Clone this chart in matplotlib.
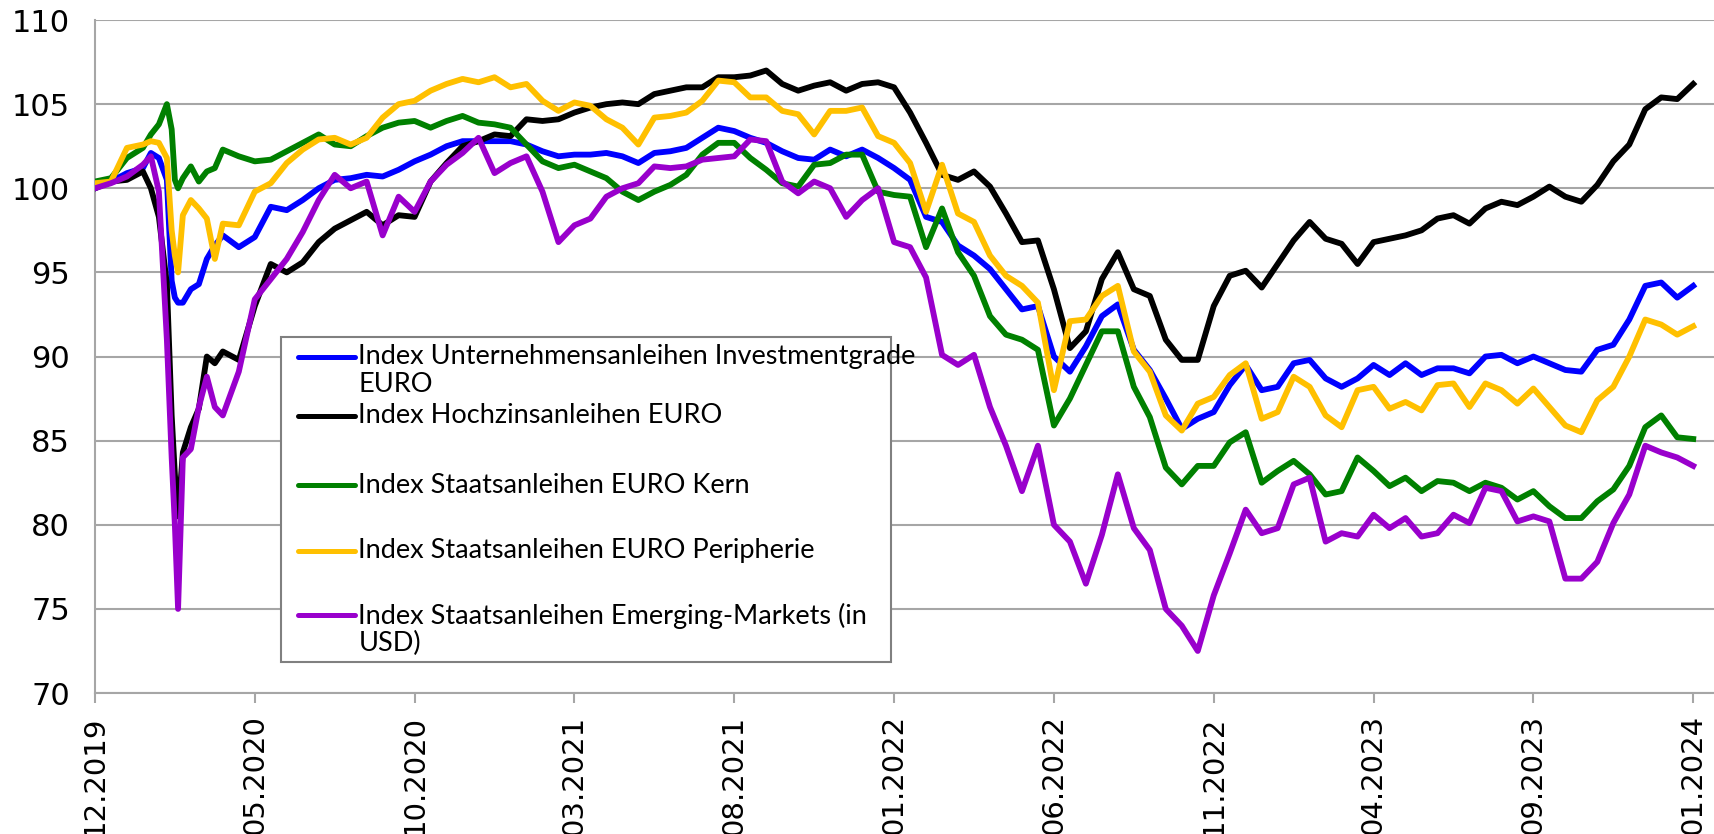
import matplotlib
matplotlib.use("Agg")
import matplotlib.pyplot as plt
from matplotlib.patches import Rectangle

# ==========================================
# Daten (Indexstand, Start = 100)
# ==========================================

# Beobachtungen in Zehntel eines Tickabstands, in der Corona-Phase dichter
pos = sorted(list(range(0, 1001, 10)) + [35, 45, 48, 52, 55, 65, 75])

tick_labels = ["12.2019", "05.2020", "10.2020", "03.2021", "08.2021", "01.2022",
               "06.2022", "11.2022", "04.2023", "09.2023", "01.2024"]

ig = [100.0, 100.4, 100.9, 101.2, 102.1, 101.8, 100.5, 94.5, 93.5, 93.2, 93.2, 94.0, 94.3, 95.8, 96.6,
      97.2, 96.5, 97.1, 98.9, 98.7, 99.3, 100.0, 100.5, 100.6, 100.8, 100.7, 101.1, 101.6, 102.0,
      102.5, 102.8, 102.8, 102.8, 102.8, 102.6, 102.2, 101.9, 102.0, 102.0, 102.1, 101.9, 101.5,
      102.1, 102.2, 102.4, 103.0, 103.6, 103.4, 103.0, 102.7, 102.2, 101.8, 101.7, 102.3, 101.9,
      102.3, 101.8, 101.2, 100.5, 98.3, 98.0, 96.6, 96.0, 95.2, 94.0, 92.8, 93.0, 90.0, 89.1, 90.6,
      92.4, 93.1, 90.4, 89.2, 87.5, 85.7, 86.3, 86.7, 88.3, 89.5, 88.0, 88.2, 89.6, 89.8, 88.7, 88.2,
      88.7, 89.5, 88.9, 89.6, 88.9, 89.3, 89.3, 89.0, 90.0, 90.1, 89.6, 90.0, 89.6, 89.2, 89.1, 90.4,
      90.7, 92.2, 94.2, 94.4, 93.5, 94.2]

hy = [100.0, 100.4, 100.5, 101.0, 100.0, 98.3, 94.3, 86.5, 83.0, 80.5, 84.3, 85.8, 86.9, 90.0, 89.6,
      90.3, 89.8, 93.0, 95.5, 95.0, 95.6, 96.8, 97.6, 98.1, 98.6, 97.8, 98.4, 98.3, 100.4, 101.5,
      102.5, 102.8, 103.2, 103.1, 104.1, 104.0, 104.1, 104.5, 104.8, 105.0, 105.1, 105.0, 105.6,
      105.8, 106.0, 106.0, 106.6, 106.6, 106.7, 107.0, 106.2, 105.8, 106.1, 106.3, 105.8, 106.2,
      106.3, 106.0, 104.5, 102.7, 100.8, 100.5, 101.0, 100.1, 98.5, 96.8, 96.9, 94.0, 90.5, 91.5,
      94.6, 96.2, 94.0, 93.6, 91.0, 89.8, 89.8, 93.0, 94.8, 95.1, 94.1, 95.5, 96.9, 98.0, 97.0, 96.7,
      95.5, 96.8, 97.0, 97.2, 97.5, 98.2, 98.4, 97.9, 98.8, 99.2, 99.0, 99.5, 100.1, 99.5, 99.2,
      100.2, 101.6, 102.6, 104.7, 105.4, 105.3, 106.2]

kern = [100.4, 100.6, 101.8, 102.4, 103.2, 103.8, 105.0, 103.5, 100.5, 100.0, 100.6, 101.3, 100.4,
        101.0, 101.2, 102.3, 101.9, 101.6, 101.7, 102.2, 102.7, 103.2, 102.6, 102.5, 103.1, 103.6,
        103.9, 104.0, 103.6, 104.0, 104.3, 103.9, 103.8, 103.6, 102.6, 101.6, 101.2, 101.4, 101.0,
        100.6, 99.8, 99.3, 99.8, 100.2, 100.8, 102.0, 102.7, 102.7, 101.8, 101.1, 100.3, 100.1, 101.4,
        101.5, 102.0, 102.0, 99.8, 99.6, 99.5, 96.5, 98.8, 96.2, 94.8, 92.4, 91.3, 91.0, 90.4, 85.9,
        87.5, 89.5, 91.5, 91.5, 88.2, 86.4, 83.4, 82.4, 83.5, 83.5, 84.9, 85.5, 82.5, 83.2, 83.8, 83.0,
        81.8, 82.0, 84.0, 83.2, 82.3, 82.8, 82.0, 82.6, 82.5, 82.0, 82.5, 82.2, 81.5, 82.0, 81.1, 80.4,
        80.4, 81.4, 82.1, 83.5, 85.8, 86.5, 85.2, 85.1]

peripherie = [100.3, 100.4, 102.4, 102.6, 102.8, 102.7, 101.8, 97.5, 96.0, 95.0, 98.4, 99.3, 98.8,
              98.2, 95.8, 97.9, 97.8, 99.8, 100.3, 101.5, 102.3, 102.9, 103.0, 102.6, 103.0, 104.2,
              105.0, 105.2, 105.8, 106.2, 106.5, 106.3, 106.6, 106.0, 106.2, 105.2, 104.6, 105.1,
              104.9, 104.1, 103.6, 102.6, 104.2, 104.3, 104.5, 105.2, 106.4, 106.3, 105.4, 105.4,
              104.6, 104.4, 103.2, 104.6, 104.6, 104.8, 103.1, 102.7, 101.5, 98.6, 101.4, 98.5, 98.0,
              96.0, 94.8, 94.2, 93.2, 88.0, 92.1, 92.2, 93.6, 94.2, 90.3, 89.1, 86.5, 85.6, 87.2, 87.6,
              88.9, 89.6, 86.3, 86.7, 88.8, 88.2, 86.5, 85.8, 88.0, 88.2, 86.9, 87.3, 86.8, 88.3, 88.4,
              87.0, 88.4, 88.0, 87.2, 88.1, 87.0, 85.9, 85.5, 87.4, 88.2, 90.0, 92.2, 91.9, 91.3, 91.8]

em = [100.0, 100.3, 100.7, 101.4, 101.9, 99.8, 91.0, 84.0, 80.0, 75.0, 84.0, 84.5, 87.0, 88.8, 87.0,
      86.5, 89.1, 93.4, 94.6, 95.8, 97.4, 99.3, 100.8, 100.0, 100.4, 97.2, 99.5, 98.6, 100.4, 101.4,
      102.1, 103.0, 100.9, 101.5, 101.9, 99.8, 96.8, 97.8, 98.2, 99.5, 100.0, 100.3, 101.3, 101.2,
      101.3, 101.7, 101.8, 101.9, 102.9, 102.8, 100.4, 99.7, 100.4, 100.0, 98.3, 99.3, 100.0, 96.8,
      96.5, 94.7, 90.1, 89.5, 90.1, 87.0, 84.7, 82.0, 84.7, 80.0, 79.0, 76.5, 79.4, 83.0, 79.8, 78.5,
      75.0, 74.0, 72.5, 75.8, 78.3, 80.9, 79.5, 79.8, 82.4, 82.8, 79.0, 79.5, 79.3, 80.6, 79.8, 80.4,
      79.3, 79.5, 80.6, 80.1, 82.2, 82.0, 80.2, 80.5, 80.2, 76.8, 76.8, 77.8, 80.1, 81.8, 84.7, 84.3,
      84.0, 83.5]

labels = ["Index Unternehmensanleihen Investmentgrade\nEURO",
          "Index Hochzinsanleihen EURO",
          "Index Staatsanleihen EURO Kern",
          "Index Staatsanleihen EURO Peripherie",
          "Index Staatsanleihen Emerging-Markets (in\nUSD)"]
colors = ["#0000FF", "#000000", "#008000", "#FFC000", "#9900CC"]
series = [ig, hy, kern, peripherie, em]

# ==========================================
# Plot
# ==========================================

fig = plt.figure(figsize=(17.14, 8.34), dpi=100)
ax = fig.add_axes([0.0554, 0.169, 0.9446, 0.807])

grid_col = "#A6A6A6"

for vals, col in zip(series, colors):
    ax.plot(pos, vals, color=col, lw=4.2, solid_joinstyle="round", zorder=3)

ax.set_xlim(0, 1013)
ax.set_ylim(70, 110)
ax.set_yticks(range(70, 111, 5))
ax.set_xticks(range(0, 1001, 100))
ax.set_xticklabels(tick_labels, rotation=90, fontsize=21, family="DejaVu Sans")
for t in ax.get_yticklabels():
    t.set_fontfamily(["Liberation Sans Narrow", "DejaVu Sans"])
    t.set_fontsize(22)

ax.grid(axis="y", color=grid_col, lw=1.5, zorder=0)
ax.tick_params(axis="y", length=0, pad=18)
ax.tick_params(axis="x", length=7, width=1.5, color=grid_col, pad=9)

for side in ["top", "right"]:
    ax.spines[side].set_visible(False)
for side in ["left", "bottom"]:
    ax.spines[side].set_color(grid_col)
    ax.spines[side].set_linewidth(1.5)

# Legende (Excel-Stil: Linie an der ersten Textzeile)
ax.add_patch(Rectangle((0.1151, 0.046), 0.3768, 0.4827, transform=ax.transAxes,
                       facecolor="white", edgecolor="#808080", lw=1.5, zorder=5))
entry_y = [0.4999, 0.4123, 0.3085, 0.2111, 0.1153]
line_step = 0.0421
for lab, col, y in zip(labels, colors, entry_y):
    ax.plot([0.1252, 0.1608], [y, y], transform=ax.transAxes, color=col,
            lw=3.6, solid_capstyle="round", zorder=6)
    for k, part in enumerate(lab.split("\n")):
        ax.text(0.1627, y - k * line_step, part, transform=ax.transAxes,
                fontsize=19.5, family="Lato", va="center", ha="left", zorder=6)

fig.savefig("out.png", dpi=100)
